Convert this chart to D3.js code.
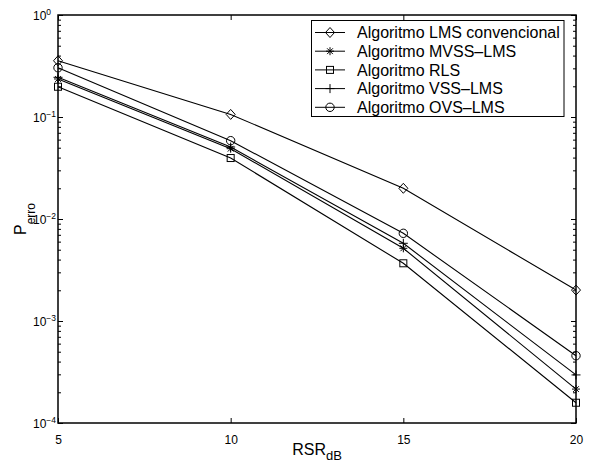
<!DOCTYPE html>
<html lang="en">
<head>
  <meta charset="UTF-8">
  <title>Perro vs RSR</title>
  <script src="https://d3js.org/d3.v7.min.js"></script>
  <style>
    body { margin: 0; background: #fff; }
    svg { font-family: "Liberation Sans", Arial, sans-serif; }
    .frame { fill: none; stroke: #000; stroke-width: 1.5px; }
    .series { fill: none; stroke: #000; stroke-width: 1.1px; }
    .marker { fill: none; stroke: #000; stroke-width: 1px; }
  </style>
</head>
<body>
  <div id="chart"></div>
  <script>
    // data
    const rsr = [5, 10, 15, 20];
    const lmsConv = [0.356, 0.106, 0.0200, 0.00201];
    const mvssLms = [0.236, 0.0489, 0.00516, 0.000215];
    const rls = [0.198, 0.0396, 0.00368, 0.000158];
    const vssLms = [0.245, 0.0508, 0.00578, 0.000296];
    const ovsLms = [0.304, 0.0586, 0.00724, 0.000457];

    const seriesNames = ["Algoritmo LMS convencional", "Algoritmo MVSS\u2013LMS", "Algoritmo RLS",
                         "Algoritmo VSS\u2013LMS", "Algoritmo OVS\u2013LMS"];
    const seriesValues = [lmsConv, mvssLms, rls, vssLms, ovsLms];
    const seriesMarkers = ["diamond", "star", "square", "plus", "circle"];

    const xTicks = [5, 10, 15, 20];
    const yExponents = [0, -1, -2, -3, -4];

    const W = 589, H = 466;
    const plot = { left: 58, right: 576, top: 15, bottom: 423 };

    const x = d3.scaleLinear().domain([5, 20]).range([plot.left, plot.right]);
    const y = d3.scaleLog().domain([1e-4, 1]).range([plot.bottom, plot.top]);

    const svg = d3.select("#chart").append("svg")
      .attr("width", W).attr("height", H);

    // minor ticks for log axis
    const minor = [];
    yExponents.slice(1).forEach(e => {
      for (let k = 2; k <= 9; k++) minor.push(k * Math.pow(10, e));
    });

    function axisStyle(g) {
      g.select(".domain").remove();
      g.selectAll("line").attr("stroke", "#000").attr("stroke-width", 1);
    }

    // left / right major + minor ticks
    svg.append("g").attr("transform", `translate(${plot.left},0)`)
      .call(d3.axisLeft(y).tickValues(minor).tickSize(-3).tickFormat(""))
      .call(axisStyle);
    svg.append("g").attr("transform", `translate(${plot.right},0)`)
      .call(d3.axisRight(y).tickValues(minor).tickSize(-3).tickFormat(""))
      .call(axisStyle);
    svg.append("g").attr("transform", `translate(${plot.right},0)`)
      .call(d3.axisRight(y).tickValues(yExponents.map(e => Math.pow(10, e))).tickSize(-5).tickFormat(""))
      .call(axisStyle);

    const yAxis = svg.append("g").attr("transform", `translate(${plot.left},0)`)
      .call(d3.axisLeft(y).tickValues(yExponents.map(e => Math.pow(10, e))).tickSize(-5).tickFormat(""))
      .call(axisStyle);

    yAxis.selectAll(".tick").each(function (d) {
      const t = d3.select(this).select("text")
        .attr("x", -25).attr("dy", "0.36em")
        .attr("font-size", 12).attr("font-family", "Liberation Sans, Arial, sans-serif")
        .attr("fill", "#000").attr("text-anchor", "start");
      const e = Math.round(Math.log10(d));
      t.append("tspan").text("10");
      t.append("tspan").attr("dy", "-0.55em").attr("font-size", 8.5)
        .text(e === 0 ? "0" : "\u2212" + Math.abs(e));
    });

    // bottom / top ticks
    svg.append("g").attr("transform", `translate(0,${plot.top})`)
      .call(d3.axisTop(x).tickValues(xTicks).tickSize(-5).tickFormat(""))
      .call(axisStyle);
    svg.append("g").attr("transform", `translate(0,${plot.bottom})`)
      .call(d3.axisBottom(x).tickValues(xTicks).tickSize(-5).tickPadding(12).tickFormat(d => d))
      .call(axisStyle)
      .call(g => g.selectAll("text")
        .attr("font-size", 12).attr("font-family", "Liberation Sans, Arial, sans-serif")
        .attr("fill", "#000"));

    // frame
    svg.append("rect").attr("class", "frame")
      .attr("x", plot.left).attr("y", plot.top)
      .attr("width", plot.right - plot.left).attr("height", plot.bottom - plot.top);

    // markers
    function drawMarker(g, type, cx, cy) {
      if (type === "diamond") {
        g.append("path").attr("class", "marker")
          .attr("d", `M${cx},${cy - 5}L${cx + 4.5},${cy}L${cx},${cy + 5}L${cx - 4.5},${cy}Z`);
      } else if (type === "square") {
        g.append("rect").attr("class", "marker")
          .attr("x", cx - 3.5).attr("y", cy - 3.5).attr("width", 7).attr("height", 7);
      } else if (type === "circle") {
        g.append("circle").attr("class", "marker").attr("cx", cx).attr("cy", cy).attr("r", 4.2);
      } else if (type === "plus") {
        g.append("path").attr("class", "marker")
          .attr("d", `M${cx - 4.5},${cy}L${cx + 4.5},${cy}M${cx},${cy - 4.5}L${cx},${cy + 4.5}`);
      } else if (type === "star") {
        const r = 4;
        const d = r * 0.72;
        g.append("path").attr("class", "marker")
          .attr("d", `M${cx - r},${cy}L${cx + r},${cy}M${cx},${cy - r}L${cx},${cy + r}` +
                     `M${cx - d},${cy - d}L${cx + d},${cy + d}M${cx - d},${cy + d}L${cx + d},${cy - d}`);
      }
    }

    const line = d3.line().x((d, i) => x(rsr[i])).y(d => y(d));

    seriesValues.forEach((vals, s) => {
      const g = svg.append("g");
      g.append("path").attr("class", "series").attr("d", line(vals));
      vals.forEach((v, i) => drawMarker(g, seriesMarkers[s], x(rsr[i]), y(v)));
    });

    // legend
    const legend = svg.append("g");
    legend.append("rect")
      .attr("x", 311.5).attr("y", 20.5).attr("width", 252.5).attr("height", 96)
      .attr("fill", "#fff").attr("stroke", "#000").attr("stroke-width", 1);
    seriesNames.forEach((name, i) => {
      const ry = 32.5 + i * 18.7;
      legend.append("line").attr("x1", 315).attr("x2", 345).attr("y1", ry).attr("y2", ry)
        .attr("stroke", "#000").attr("stroke-width", 1);
      drawMarker(legend, seriesMarkers[i], 330, ry);
      legend.append("text").attr("x", 357).attr("y", ry).attr("dy", "0.36em")
        .attr("font-size", 16).attr("fill", "#000").text(name);
    });

    // axis labels
    const xl = svg.append("text").attr("x", (plot.left + plot.right) / 2).attr("y", 455)
      .attr("text-anchor", "middle").attr("font-size", 16).attr("fill", "#000");
    xl.append("tspan").text("RSR");
    xl.append("tspan").attr("dy", 5).attr("font-size", 13).text("dB");

    const yl = svg.append("text")
      .attr("transform", `translate(25.5,219) rotate(-90)`)
      .attr("text-anchor", "middle").attr("font-size", 16).attr("fill", "#000");
    yl.append("tspan").text("P");
    yl.append("tspan").attr("dy", 9.5).attr("font-size", 12).text("erro");
  </script>
</body>
</html>
